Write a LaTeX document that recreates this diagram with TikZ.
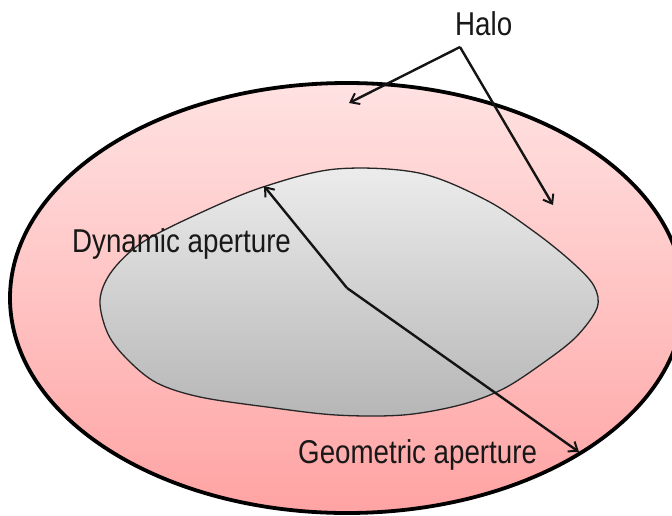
\documentclass[tikz,border=0pt]{standalone}
\usepackage{fontspec}
\setmainfont{Liberation Sans}
\usetikzlibrary{arrows.meta}
\definecolor{pinktop}{RGB}{255,226,226}
\definecolor{pinkbot}{RGB}{255,163,163}
\definecolor{graytop}{RGB}{236,236,236}
\definecolor{graybot}{RGB}{182,182,182}
\definecolor{txt}{RGB}{24,24,24}
\tikzset{
  lbl/.style={inner sep=0pt, anchor=base west, text=txt, font=\fontsize{33}{36}\selectfont},
  ptr/.style={line width=2.4pt, draw=black!92, -{Straight Barb[length=8pt,width=12pt,line width=2pt]}},
}
\newcommand{\nar}[1]{\scalebox{0.84}[1]{#1}}
\begin{document}
\begin{tikzpicture}[x=1pt,y=-1pt]
\useasboundingbox (0,0) rectangle (672,515);
\clip (0,0) rectangle (672,515);
\fill[white] (0,0) rectangle (672,515);
% outer ellipse (halo region)
\shade[top color=pinktop, bottom color=pinkbot] (347,298) ellipse [x radius=337pt, y radius=215pt];
\draw[line width=3.8pt] (347,298) ellipse [x radius=337pt, y radius=215pt];
% dynamic aperture blob
\shade[top color=graytop, bottom color=graybot, draw=black!85, line width=1.3pt]
  plot[smooth cycle, tension=0.55] coordinates {
   (100,300) (112,271) (143,242) (200,213) (263,187) (336,169) (419,173)
   (486,200) (536,233) (573,263) (594,286) (597,308) (576,337) (543,363)
   (503,389) (460,405) (403,415) (336,415) (267,407) (200,397) (157,383)
   (128,360) (108,334)};
% labels
\node[lbl] (halo) at (455,35) {\nar{Halo}};
\node[lbl] (dyn) at (72,252) {\nar{Dynamic aperture}};
\node[lbl] (geo) at (298,463) {\nar{Geometric aperture}};
% key points
\coordinate (apex) at (460,47);
\coordinate (hl) at (349,103);
\coordinate (hr) at (553,205);
\coordinate (c) at (347,288);
\coordinate (da) at (264,186);
\coordinate (ga) at (579,452);
% arrows
\draw[ptr] (apex) -- (hl);
\draw[ptr] (apex) -- (hr);
\draw[ptr] (c) -- (da);
\draw[ptr] (c) -- (ga);
\end{tikzpicture}
\end{document}
